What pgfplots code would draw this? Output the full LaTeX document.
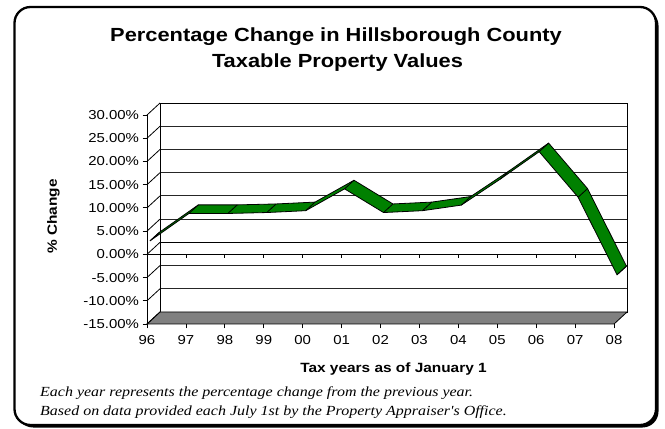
\documentclass[border=0pt]{standalone}
\usepackage{pgfplots}
\pgfplotsset{compat=1.18}
\usepackage{pgfplotstable}
\usepackage{fontspec}
\setmainfont{Liberation Sans}[FakeStretch=1.15]
\newfontfamily\notefont{Liberation Serif}[FakeStretch=1.15]
\definecolor{xlgreen}{RGB}{0,128,0}
\definecolor{xlfloor}{RGB}{128,128,128}
\pgfplotstableread{
x v
0 2.3
1 8.2
2 8.2
3 8.4
4 8.8
5 13.5
6 8.4
7 8.8
8 10.0
9 15.6
10 21.5
11 11.7
12 -5.0
}\datatable
% front and back edges of the 3-D ribbon
\pgfplotstablesort[sort key=x, sort cmp=int >]{\revtable}{\datatable}
\pgfplotstablecreatecol[create col/expr={\thisrow{x}+0.077}]{px}{\datatable}
\pgfplotstablecreatecol[create col/expr={\thisrow{v}+0.60}]{py}{\datatable}
\pgfplotstablecreatecol[create col/expr={\thisrow{x}+0.319}]{px}{\revtable}
\pgfplotstablecreatecol[create col/expr={\thisrow{v}+2.45}]{py}{\revtable}
\pgfplotstablevertcat{\polytable}{\datatable}
\pgfplotstablevertcat{\polytable}{\revtable}
\begin{document}
\begin{tikzpicture}
\useasboundingbox (0,0) rectangle (665bp,429bp);
\fill[black, rounded corners=16bp] (17bp,1.5bp) rectangle (658.5bp,419.5bp);
\draw[fill=white, line width=2.3bp, rounded corners=16bp] (14.5bp,4bp) rectangle (656bp,422bp);
% back wall
\begin{axis}[at={(160bp,117bp)}, anchor=south west, x=38.92bp, y=4.644bp,
  xmin=0, xmax=12, ymin=-15, ymax=30, enlargelimits=false,
  xtick=\empty, ytick={-15,-10,...,30}, yticklabels={}, ytick style={draw=none},
  ymajorgrids, grid style={gray!30!black, line width=0.9bp},
  axis line style={black, line width=0.9bp},
  axis background/.style={fill=white},
  extra y ticks={0}, extra y tick labels={}, extra y tick style={grid style={black, line width=1bp}}]
\addplot[draw=none] coordinates {(0,0)};
\end{axis}
% front plane
\begin{axis}[at={(147bp,105bp)}, anchor=south west, x=38.92bp, y=4.644bp,
  xmin=0, xmax=12, ymin=-15, ymax=30, enlargelimits=false, clip=false,
  axis line style={draw=none},
  xtick={0,...,12}, xticklabels={96,97,98,99,00,01,02,03,04,05,06,07,08},
  xtick pos=left, ytick={-15,-10,...,30}, ytick pos=left,
  tick align=outside, major tick length=4.5bp, tick style={black, line width=0.8bp},
  /pgf/number format/assume math mode=true,
  yticklabel={\pgfmathprintnumber[fixed,fixed zerofill,precision=2]{\tick}\%},
  ticklabel style={font=\fontsize{13bp}{15bp}\selectfont},
  xticklabel style={yshift=-3bp}]
% floor
\filldraw[fill=xlfloor, draw=black, line width=0.8bp] (axis cs:0,-15) -- (axis cs:12,-15) -- ++(13bp,12bp) -- ++(-467.04bp,0bp) -- cycle;
% left side wall
\draw[black, line width=0.9bp] (axis cs:0,-15) -- (axis cs:0,30);
\pgfplotsinvokeforeach{-15,-10,...,30}{\draw[black, line width=0.8bp] (axis cs:0,#1) -- ++(13bp,12bp);}
% category axis at 0
\draw[black, line width=0.9bp] (axis cs:0,0) -- (axis cs:12,0);
\pgfplotsinvokeforeach{0,...,12}{\draw[black, line width=0.8bp] (axis cs:#1,0) -- ++(0bp,-4bp);}
% ribbon
\addplot[fill=xlgreen, draw=black, line width=0.8bp, mark=none] table[x=px, y=py]{\polytable} -- cycle;
\addplot[black, line width=0.8bp, mark=none, quiver={u=0.242, v=1.85}] table[x=px, y=py]{\datatable};
\end{axis}
% titles and labels
\node[anchor=base, inner sep=0pt, font=\bfseries\fontsize{19bp}{23bp}\selectfont] at (336bp,387bp) {Percentage Change in Hillsborough County};
\node[anchor=base, inner sep=0pt, font=\bfseries\fontsize{19bp}{23bp}\selectfont] at (337.5bp,361.5bp) {Taxable Property Values};
\node[anchor=base, inner sep=0pt, font=\bfseries\fontsize{13.4bp}{16bp}\selectfont] at (393.5bp,56bp) {Tax years as of January 1};
\node[rotate=90, inner sep=0pt, font=\bfseries\fontsize{13.4bp}{16bp}\selectfont] at (53.5bp,212.5bp) {\% Change};
\node[anchor=base west, inner sep=0pt, font=\notefont\itshape\fontsize{13.9bp}{16bp}\selectfont] at (40bp,32.5bp) {Each year represents the percentage change from the previous year.};
\node[anchor=base west, inner sep=0pt, font=\notefont\itshape\fontsize{13.9bp}{16bp}\selectfont] at (40bp,14bp) {Based on data provided each July 1st by the Property Appraiser's Office.};
\end{tikzpicture}
\end{document}
